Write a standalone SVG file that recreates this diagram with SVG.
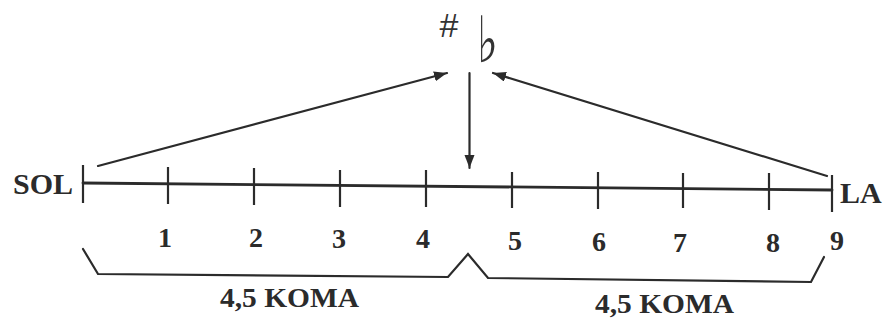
<svg xmlns="http://www.w3.org/2000/svg" width="886" height="320" viewBox="0 0 886 320">
<defs>
<style>
.ln{stroke:#2b2b2b;stroke-width:2.2;fill:none;stroke-linecap:round}
.tk{stroke:#2b2b2b;stroke-width:2.2}
.t{font-family:"Liberation Serif","Times New Roman",serif;font-weight:bold;fill:#2b2b2b}
.sym{font-family:"DejaVu Sans",sans-serif;fill:#333}
</style>
<marker id="ah" markerUnits="userSpaceOnUse" markerWidth="14" markerHeight="12" refX="13" refY="5" orient="auto">
<path d="M0,0 L13,5 L0,10 Z" fill="#2b2b2b"/>
</marker>
</defs>
<rect width="886" height="320" fill="#fff"/>
<g id="symbols">
<text x="449" y="37" font-size="34" text-anchor="middle" style="font-family:'Liberation Sans',Arial,sans-serif;fill:#333">#</text>
<text class="sym" font-size="40" transform="translate(477,62) scale(1.1,1.6)">♭</text>
</g>
<g id="scale">
<line class="ln" x1="83" y1="183" x2="832" y2="190" style="stroke-width:2.8"/>
<line class="tk" x1="83" y1="165" x2="83" y2="203"/>
<line class="tk" x1="168" y1="167" x2="168" y2="204"/>
<line class="tk" x1="254" y1="168" x2="254" y2="205"/>
<line class="tk" x1="340" y1="170" x2="340" y2="207"/>
<line class="tk" x1="426" y1="170" x2="426" y2="207"/>
<line class="tk" x1="512" y1="172" x2="512" y2="208"/>
<line class="tk" x1="598" y1="172" x2="598" y2="209"/>
<line class="tk" x1="683" y1="173" x2="683" y2="208"/>
<line class="tk" x1="769" y1="173" x2="769" y2="210"/>
<line class="tk" x1="832" y1="175" x2="832" y2="212"/>
</g>
<g id="sol"><text class="t" x="13" y="194" font-size="30">SOL</text></g>
<g id="la"><text class="t" x="840" y="203" font-size="30">LA</text></g>
<g id="numbers" class="t" font-size="28" text-anchor="middle">
<text x="165" y="247">1</text>
<text x="256" y="247">2</text>
<text x="339" y="248">3</text>
<text x="423" y="248">4</text>
<text x="515" y="250">5</text>
<text x="599" y="251">6</text>
<text x="680" y="252">7</text>
<text x="773" y="252">8</text>
<text x="837" y="250">9</text>
</g>
<g id="brace">
<path class="ln" d="M83,249 L98,274 L448,277 L468,254 L488,278 L811,282 L824,257"/>
</g>
<g id="labels" class="t" font-size="27">
<text x="220" y="307" textLength="139" lengthAdjust="spacingAndGlyphs">4,5 KOMA</text>
<text x="595" y="313" textLength="139" lengthAdjust="spacingAndGlyphs">4,5 KOMA</text>
</g>
<g id="connectors">
<line class="ln" x1="98" y1="166" x2="447" y2="73" marker-end="url(#ah)"/>
<line class="ln" x1="827" y1="176" x2="493" y2="73" marker-end="url(#ah)"/>
<line class="ln" x1="469.5" y1="73" x2="469.5" y2="168" marker-end="url(#ah)"/>
</g>
</svg>
